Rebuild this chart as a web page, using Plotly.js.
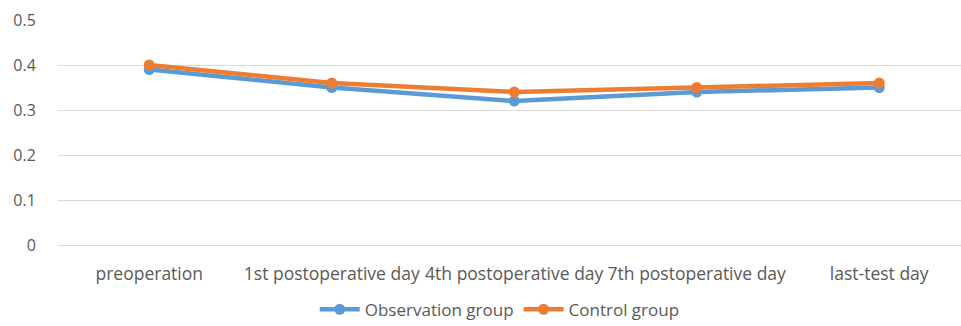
<!DOCTYPE html>
<html>
<head>
<meta charset="utf-8">
<script src="https://cdn.plot.ly/plotly-3.0.1.min.js"></script>
<style>
  html, body { margin: 0; padding: 0; background: #ffffff; }
  #chart { width: 961px; height: 326px; }
</style>
</head>
<body>
<div id="chart"></div>
<script>
// Time points along the x axis
const categories = [
  "preoperation",
  "1st postoperative day",
  "4th postoperative day",
  "7th postoperative day",
  "last-test day"
];

// Series values
const observationGroup = [0.39, 0.35, 0.32, 0.34, 0.35];
const controlGroup = [0.40, 0.36, 0.34, 0.35, 0.36];

// Y tick values and labels
const yTickVals = [0, 0.1, 0.2, 0.3, 0.4, 0.5];
const yTickText = ["0", "0.1", "0.2", "0.3", "0.4", "0.5"];

const textColor = "#595959";
const fontFamily = "'Open Sans', sans-serif";

const traces = [
  {
    x: categories,
    y: observationGroup,
    name: "Observation group",
    type: "scatter",
    mode: "lines+markers",
    line: { color: "#5B9BD5", width: 4.5 },
    marker: { color: "#5B9BD5", size: 11 }
  },
  {
    x: categories,
    y: controlGroup,
    name: "Control group",
    type: "scatter",
    mode: "lines+markers",
    line: { color: "#ED7D31", width: 4.5 },
    marker: { color: "#ED7D31", size: 11 }
  }
];

const layout = {
  width: 961,
  height: 326,
  margin: { l: 58, r: 0, t: 20, b: 81, autoexpand: false },
  paper_bgcolor: "#ffffff",
  plot_bgcolor: "#ffffff",
  font: { family: fontFamily, size: 16, color: textColor },
  showlegend: true,
  legend: {
    orientation: "h",
    xref: "container",
    yref: "container",
    x: 0.52,
    xanchor: "center",
    y: 0.05,
    yanchor: "middle",
    font: { family: fontFamily, size: 17, color: textColor },
    itemwidth: 40,
    tracegroupgap: 0
  },
  xaxis: {
    type: "category",
    range: [-0.5, 4.448],
    showgrid: false,
    zeroline: false,
    showline: false,
    ticks: "outside",
    ticklen: 13,
    tickcolor: "rgba(0,0,0,0)",
    tickangle: 0,
    tickfont: { family: fontFamily, size: 17.5, color: textColor },
    fixedrange: true
  },
  yaxis: {
    range: [0, 0.5],
    tickvals: yTickVals,
    ticktext: yTickText,
    showgrid: true,
    gridcolor: "#D9D9D9",
    gridwidth: 1,
    zeroline: true,
    zerolinecolor: "#D9D9D9",
    zerolinewidth: 1,
    showline: false,
    ticks: "outside",
    ticklen: 18,
    tickcolor: "rgba(0,0,0,0)",
    tickfont: { family: fontFamily, size: 16, color: textColor },
    fixedrange: true
  }
};

Plotly.newPlot("chart", traces, layout, { displayModeBar: false, staticPlot: true });
</script>
</body>
</html>
